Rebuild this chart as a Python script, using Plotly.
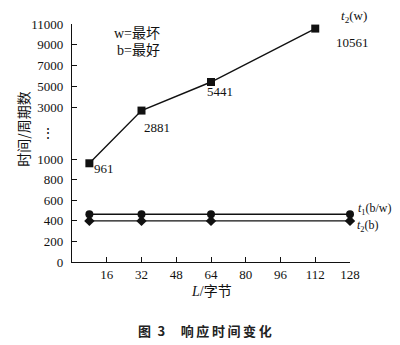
import plotly.graph_objects as go

# ---- data ----
L_worst = [8, 32, 64, 112]
t2_worst = [961, 2881, 5441, 10561]
L_best = [8, 32, 64, 128]
t1_bw = [465, 465, 465, 465]
t2_best = [400, 400, 400, 400]
x_ticks = [16, 32, 48, 64, 80, 96, 112, 128]
y_ticks = [0, 200, 400, 600, 800, 1000, 3000, 5000, 7000, 9000, 11000]
worst_labels = ["961", "2881", "5441", "10561"]


def broken(v):
    """Broken y scale: full scale up to 1000, a short gap to 3000, compressed above."""
    if v <= 1000:
        return v
    if v <= 3000:
        return 1000 + (v - 1000) * 0.252
    return 1504 + (v - 3000) * 0.1016


SERIF = "Liberation Serif, Noto Sans CJK SC, serif"
CJK = "Noto Sans CJK SC, sans-serif"
INK = "#111111"

fig = go.Figure()

fig.add_trace(go.Scatter(
    x=L_worst, y=[broken(v) for v in t2_worst], mode="lines+markers",
    line=dict(color=INK, width=1.4),
    marker=dict(symbol="square", size=8, color=INK),
    showlegend=False, cliponaxis=False,
))
fig.add_trace(go.Scatter(
    x=L_best, y=[broken(v) for v in t1_bw], mode="lines+markers",
    line=dict(color=INK, width=1.3),
    marker=dict(symbol="circle", size=8, color=INK),
    showlegend=False, cliponaxis=False,
))
fig.add_trace(go.Scatter(
    x=L_best, y=[broken(v) for v in t2_best], mode="lines+markers",
    line=dict(color=INK, width=1.3),
    marker=dict(symbol="diamond", size=8, color=INK),
    showlegend=False, cliponaxis=False,
))

annotations = []
# value labels on the worst-case curve
shifts = [(15, -5), (15, -17), (9, -9), (37, -14)]
for x, v, txt, (dx, dy) in zip(L_worst, t2_worst, worst_labels, shifts):
    annotations.append(dict(
        x=x, y=broken(v), xref="x", yref="y", text=txt, showarrow=False,
        xanchor="center", yanchor="middle",
        xshift=dx, yshift=dy, font=dict(family=SERIF, size=13, color=INK),
    ))

# curve names
annotations.append(dict(
    x=L_worst[-1], y=broken(t2_worst[-1]), xref="x", yref="y",
    text="<i>t</i><sub>2</sub>(w)", showarrow=False, xanchor="center", yanchor="middle",
    xshift=39, yshift=12, font=dict(family=SERIF, size=13, color=INK),
))
annotations.append(dict(
    x=L_best[-1], y=broken(t1_bw[-1]), xref="x", yref="y",
    text="<i>t</i><sub>1</sub>(b/w)", showarrow=False, xanchor="left", yanchor="middle",
    xshift=6, yshift=5, font=dict(family=SERIF, size=12, color=INK),
))
annotations.append(dict(
    x=L_best[-1], y=broken(t2_best[-1]), xref="x", yref="y",
    text="<i>t</i><sub>2</sub>(b)", showarrow=False, xanchor="left", yanchor="middle",
    xshift=5, yshift=-5, font=dict(family=SERIF, size=12, color=INK),
))

# key for w / b
annotations.append(dict(
    x=0.144, y=0.962, xref="paper", yref="paper", xanchor="left", yanchor="middle",
    text="w=最坏", showarrow=False, font=dict(family=SERIF, size=14, color=INK),
))
annotations.append(dict(
    x=0.155, y=0.89, xref="paper", yref="paper", xanchor="left", yanchor="middle",
    text="b=最好", showarrow=False, font=dict(family=SERIF, size=14, color=INK),
))

# gap marker on the y axis
annotations.append(dict(
    x=-0.086, y=broken(2000), xref="paper", yref="y", text="⋮",
    xanchor="center", yanchor="middle",
    showarrow=False, font=dict(family=SERIF, size=14, color=INK),
))

# axis titles
annotations.append(dict(
    x=-0.176, y=0.56, xref="paper", yref="paper", text="时间/周期数",
    xanchor="center", yanchor="middle",
    textangle=-90, showarrow=False, font=dict(family=CJK, size=14, color=INK),
))
annotations.append(dict(
    x=0.5, y=-0.124, xref="paper", yref="paper", text="<i>L</i>/字节",
    xanchor="center", yanchor="middle",
    showarrow=False, font=dict(family=SERIF, size=14, color=INK),
))

fig.update_layout(
    width=400, height=345,
    margin=dict(l=72, r=50, t=24, b=83),
    paper_bgcolor="white", plot_bgcolor="white",
    annotations=annotations,
    title=dict(
        text="<b>图\u20023\u2003\u2009响\u2009应\u2009时\u2009间\u2009变\u2009化</b>",
        x=0.512, xanchor="center",
        y=0.038, yanchor="middle", yref="container",
        font=dict(family=CJK, size=13, color="#222222"),
    ),
)

fig.update_xaxes(
    range=[0, 128], tickvals=x_ticks, ticktext=[str(t) for t in x_ticks],
    ticks="inside", ticklen=5, tickwidth=1.2, tickcolor=INK,
    showline=True, linecolor=INK, linewidth=1.4, showgrid=False, zeroline=False,
    tickfont=dict(family=SERIF, size=13, color=INK),
)
fig.update_yaxes(
    range=[0, broken(11000)], tickvals=[broken(v) for v in y_ticks],
    ticktext=[str(v) for v in y_ticks],
    ticks="inside", ticklen=5, tickwidth=1.2, tickcolor=INK,
    showline=True, linecolor=INK, linewidth=1.4, showgrid=False, zeroline=False,
    tickfont=dict(family=SERIF, size=13, color=INK), ticklabelstandoff=5,
)

fig.write_html("out.html")
